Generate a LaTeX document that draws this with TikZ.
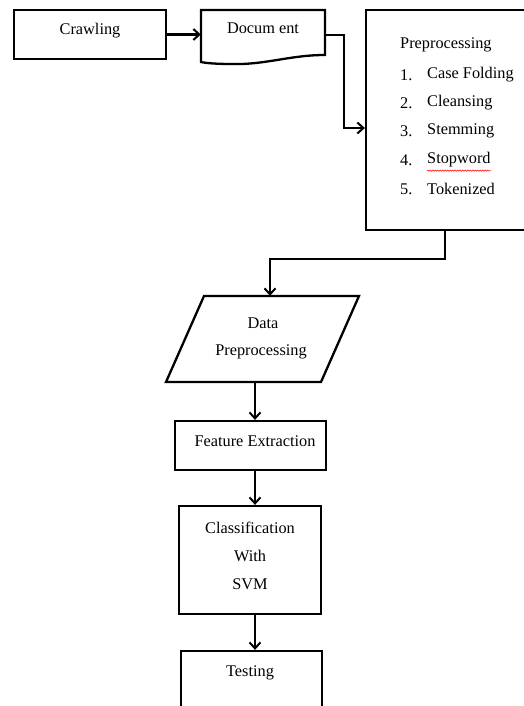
\documentclass[tikz,border=0pt]{standalone}
\usepackage{fontspec}
\setmainfont{Liberation Serif}
\usetikzlibrary{arrows.meta,decorations.pathmorphing}
\tikzset{
  box/.style={draw,line width=2.3pt,rectangle,inner sep=0pt},
  ghost/.style={rectangle,inner sep=0pt},
  lbl/.style={inner sep=0pt,font=\fontsize{16.3}{19}\selectfont},
  arr/.style={line width=2.3pt,-{Straight Barb[length=6pt,width=11pt,line width=2pt]}},
  outline/.style={line width=2.3pt,line join=miter},
}
\begin{document}
\begin{tikzpicture}[x=1pt,y=-1pt]
\clip (0,0) rectangle (524,706);
\fill[white] (0,0) rectangle (524,706);
% Crawling
\node[box,minimum width=152pt,minimum height=49pt] (crawl) at (90,34.5) {};
\node[lbl] (crawlt) at (90,31) {Crawling};
% Document
\node[ghost,minimum width=124pt,minimum height=52pt] (doc) at (263,36) {};
\draw[outline] (201,62) -- (201,10) -- (325,10) -- (325,55)
  .. controls (290,55) and (265,65) .. (232,64) .. controls (215,64) and (205,63) .. cycle;
\node[lbl] (doct) at (263,28) {Docum ent};
% Preprocessing box
\node[box,minimum width=180pt,minimum height=220pt] (pre) at (456,120) {};
\node[lbl,anchor=west] (pret) at (400,45) {Preprocessing};
\node[lbl,anchor=west] (n1) at (400,75) {1.};
\node[lbl,anchor=west] (t1) at (427,75) {Case Folding};
\node[lbl,anchor=west] (n2) at (400,103) {2.};
\node[lbl,anchor=west] (t2) at (427,103) {Cleansing};
\node[lbl,anchor=west] (n3) at (400,131) {3.};
\node[lbl,anchor=west] (t3) at (427,131) {Stemming};
\node[lbl,anchor=west] (n4) at (400,160) {4.};
\node[lbl,anchor=west] (t4) at (427,160) {Stopword};
\node[lbl,anchor=west] (n5) at (400,189) {5.};
\node[lbl,anchor=west] (t5) at (427,189) {Tokenized};
\draw[red,line width=0.5pt,decorate,decoration={snake,amplitude=0.7pt,segment length=2.5pt}]
  ([yshift=-3pt]t4.south west) -- ([yshift=-3pt]t4.south east);
% Data Preprocessing (parallelogram)
\node[ghost,minimum width=156pt,minimum height=86pt] (data) at (262.5,339) {};
\draw[outline] (204,296) -- (359,296) -- (321,382) -- (166,382) -- cycle;
\node[lbl] (datat1) at (263,323) {Data};
\node[lbl] (datat2) at (261,352) {Preprocessing};
% Feature Extraction
\node[box,minimum width=151pt,minimum height=49pt] (feat) at (250.5,445.5) {};
\node[lbl] (featt) at (255,441) {Feature Extraction};
% Classification
\node[box,minimum width=142pt,minimum height=108pt] (cls) at (250,560) {};
\node[lbl] (clst1) at (250,528) {Classification};
\node[lbl] (clst2) at (250,556) {With};
\node[lbl] (clst3) at (250,584) {SVM};
% Testing
\node[box,minimum width=141pt,minimum height=80pt] (test) at (251.5,691) {};
\node[lbl] (testt) at (250,673) {Testing};
% connectors
\draw[arr] (crawl.east) -- (doc.west |- crawl.east);
\draw[arr] ([yshift=1pt]doc.east) -- ++(19,0) |- ([yshift=-8pt]pre.west);
\draw[arr] ([xshift=80pt]pre.south west) -- ++(0,28) -| ([xshift=7.5pt]data.north);
\draw[arr] ([xshift=-7.5pt]data.south) -- ([xshift=4.5pt]feat.north);
\draw[arr] ([xshift=4.5pt]feat.south) -- ([xshift=5pt]cls.north);
\draw[arr] ([xshift=5pt]cls.south) -- ([xshift=3.5pt]test.north);
\end{tikzpicture}
\end{document}
